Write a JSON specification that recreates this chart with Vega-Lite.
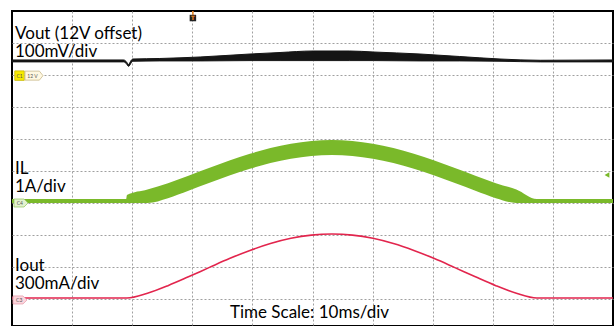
{
  "$schema": "https://vega.github.io/schema/vega-lite/v6.json",
  "width": 601,
  "height": 315,
  "autosize": {"type": "none"},
  "padding": {"left": 12, "top": 11, "right": 3, "bottom": 0},
  "background": "white",
  "config": {
    "view": {"stroke": "#000", "strokeWidth": 2},
    "axis": {"grid": true, "labels": false, "ticks": false, "domain": false, "gridColor": "#a0a0a0", "gridDash": [2, 2], "gridWidth": 1}
  },
  "resolve": {"scale": {"y": "independent"}},
  "encoding": {
    "x": {"field": "t", "type": "quantitative", "title": null, "scale": {"domain": [0, 100], "nice": false, "zero": false}, "axis": {"values": [10, 20, 30, 40, 50, 60, 70, 80, 90]}}
  },
  "layer": [
    {
      "data": {"values": [
        {"t": 0.5, "d": 9.125, "label": "Vout (12V offset)"},
        {"t": 0.5, "d": 8.5625, "label": "100mV/div"},
        {"t": 0.5, "d": 4.906, "label": "IL"},
        {"t": 0.5, "d": 4.344, "label": "1A/div"},
        {"t": 0.5, "d": 1.875, "label": "Iout"},
        {"t": 0.5, "d": 1.3125, "label": "300mA/div"}
      ]},
      "mark": {"type": "text", "align": "left", "baseline": "alphabetic", "font": "Lato", "fontSize": 17, "color": "#000"},
      "encoding": {
        "y": {"field": "d", "type": "quantitative", "title": null, "scale": {"domain": [0.15625, 10], "nice": false, "zero": false}, "axis": {"values": [1, 2, 3, 4, 5, 6, 7, 8, 9]}},
        "text": {"field": "label"}
      }
    },
    {
      "data": {"values": [
        {"t": 0, "lo": 41, "hi": 47},
        {"t": 18.6, "lo": 41, "hi": 47},
        {"t": 19.0, "lo": 36, "hi": 42},
        {"t": 19.4, "lo": 27, "hi": 33},
        {"t": 19.8, "lo": 37, "hi": 45},
        {"t": 20.1, "lo": 43, "hi": 50},
        {"t": 24.6, "lo": 44, "hi": 51.6},
        {"t": 31.3, "lo": 44, "hi": 56.3},
        {"t": 39.6, "lo": 45, "hi": 65.6},
        {"t": 44.6, "lo": 45, "hi": 70.3},
        {"t": 50.1, "lo": 45, "hi": 75},
        {"t": 56.2, "lo": 45, "hi": 75},
        {"t": 60.1, "lo": 45, "hi": 71.9},
        {"t": 67.9, "lo": 44, "hi": 65.6},
        {"t": 74.5, "lo": 44, "hi": 57.8},
        {"t": 81.2, "lo": 43, "hi": 50},
        {"t": 87.9, "lo": 41, "hi": 46},
        {"t": 100, "lo": 41, "hi": 47}
      ]},
      "mark": {"type": "area", "color": "#151515", "stroke": "#151515", "strokeWidth": 1, "interpolate": "monotone"},
      "encoding": {
        "y": {"field": "lo", "type": "quantitative", "title": null, "scale": {"domain": [-784.375, 200], "nice": false, "zero": false}, "axis": null},
        "y2": {"field": "hi"}
      }
    },
    {
      "data": {"values": [
        {"t": 0, "lo": 0, "hi": 0.125},
        {"t": 19.0, "lo": 0, "hi": 0.125},
        {"t": 19.13, "lo": 0, "hi": 0.25},
        {"t": 22.54, "lo": 0, "hi": 0.422},
        {"t": 25.95, "lo": 0.151, "hi": 0.62},
        {"t": 29.36, "lo": 0.382, "hi": 0.85},
        {"t": 32.77, "lo": 0.622, "hi": 1.091},
        {"t": 36.18, "lo": 0.857, "hi": 1.326},
        {"t": 39.59, "lo": 1.07, "hi": 1.539},
        {"t": 43.0, "lo": 1.251, "hi": 1.72},
        {"t": 46.41, "lo": 1.386, "hi": 1.855},
        {"t": 49.82, "lo": 1.471, "hi": 1.94},
        {"t": 53.23, "lo": 1.5, "hi": 1.969},
        {"t": 56.64, "lo": 1.471, "hi": 1.94},
        {"t": 60.05, "lo": 1.386, "hi": 1.855},
        {"t": 63.46, "lo": 1.251, "hi": 1.72},
        {"t": 66.87, "lo": 1.07, "hi": 1.539},
        {"t": 70.28, "lo": 0.857, "hi": 1.326},
        {"t": 73.69, "lo": 0.622, "hi": 1.091},
        {"t": 77.1, "lo": 0.382, "hi": 0.85},
        {"t": 80.51, "lo": 0.151, "hi": 0.62},
        {"t": 83.92, "lo": 0, "hi": 0.422},
        {"t": 87.33, "lo": 0, "hi": 0.125},
        {"t": 100, "lo": 0, "hi": 0.125}
      ]},
      "mark": {"type": "area", "color": "#7ab92a", "interpolate": "monotone"},
      "encoding": {
        "y": {"field": "lo", "type": "quantitative", "title": null, "scale": {"domain": [-3.84375, 6], "nice": false, "zero": false}, "axis": null},
        "y2": {"field": "hi"}
      }
    },
    {
      "data": {"values": [
        {"t": 0, "i": 9},
        {"t": 19.13, "i": 9},
        {"t": 22.54, "i": 54},
        {"t": 25.95, "i": 125},
        {"t": 29.36, "i": 208},
        {"t": 32.77, "i": 294},
        {"t": 36.18, "i": 379},
        {"t": 39.59, "i": 455},
        {"t": 43.0, "i": 520},
        {"t": 46.41, "i": 569},
        {"t": 49.82, "i": 599},
        {"t": 53.23, "i": 609},
        {"t": 56.64, "i": 599},
        {"t": 60.05, "i": 569},
        {"t": 63.46, "i": 520},
        {"t": 66.87, "i": 455},
        {"t": 70.28, "i": 379},
        {"t": 73.69, "i": 294},
        {"t": 77.1, "i": 208},
        {"t": 80.51, "i": 125},
        {"t": 83.92, "i": 54},
        {"t": 87.33, "i": 9},
        {"t": 100, "i": 9}
      ]},
      "mark": {"type": "line", "color": "#e2254d", "strokeWidth": 1.6, "interpolate": "monotone"},
      "encoding": {
        "y": {"field": "i", "type": "quantitative", "title": null, "scale": {"domain": [-253.125, 2700], "nice": false, "zero": false}, "axis": null}
      }
    },
    {
      "data": {"values": [{"t": 49.5, "d": 0.406, "label": "Time Scale: 10ms/div"}]},
      "mark": {"type": "text", "align": "center", "baseline": "alphabetic", "font": "Lato", "fontSize": 17, "color": "#000"},
      "encoding": {
        "y": {"field": "d", "type": "quantitative", "scale": {"domain": [0.15625, 10], "nice": false, "zero": false}, "axis": null},
        "text": {"field": "label"}
      }
    },
    {
      "data": {"values": [{"t": 1.25, "d": 7.98}]},
      "mark": {"type": "point", "shape": "square", "size": 90, "filled": true, "fill": "#f7ea00", "stroke": "#c8b800", "strokeWidth": 0.8, "opacity": 1},
      "encoding": {"y": {"field": "d", "type": "quantitative", "scale": {"domain": [0.15625, 10], "nice": false, "zero": false}, "axis": null}}
    },
    {
      "data": {"values": [{"t": 3.66, "d": 7.98}]},
      "mark": {"type": "point", "shape": "M-1,-0.5L0.6,-0.5L1,0L0.6,0.5L-1,0.5Z", "size": 324, "filled": true, "fill": "#fff8e2", "stroke": "#c9b98a", "strokeWidth": 0.8, "opacity": 1},
      "encoding": {"y": {"field": "d", "type": "quantitative", "scale": {"domain": [0.15625, 10], "nice": false, "zero": false}, "axis": null}}
    },
    {
      "data": {"values": [{"t": 1.5, "d": 4.0}]},
      "mark": {"type": "point", "shape": "M-1,-0.571L0.43,-0.571L1,0L0.43,0.571L-1,0.571Z", "size": 196, "filled": true, "fill": "#e3f2cf", "stroke": "#9ccc6a", "strokeWidth": 0.8, "opacity": 1},
      "encoding": {"y": {"field": "d", "type": "quantitative", "scale": {"domain": [0.15625, 10], "nice": false, "zero": false}, "axis": null}}
    },
    {
      "data": {"values": [{"t": 1.33, "d": 0.97}]},
      "mark": {"type": "point", "shape": "M-1,-0.571L0.43,-0.571L1,0L0.43,0.571L-1,0.571Z", "size": 196, "filled": true, "fill": "#fbd6dd", "stroke": "#e9a0ae", "strokeWidth": 0.8, "opacity": 1},
      "encoding": {"y": {"field": "d", "type": "quantitative", "scale": {"domain": [0.15625, 10], "nice": false, "zero": false}, "axis": null}}
    },
    {
      "data": {"values": [
        {"t": 1.25, "d": 7.98, "label": "C1"},
        {"t": 3.4, "d": 7.98, "label": "12 V"},
        {"t": 1.3, "d": 4.0, "label": "C4"},
        {"t": 1.2, "d": 0.97, "label": "C3"}
      ]},
      "mark": {"type": "text", "align": "center", "baseline": "middle", "font": "Lato", "fontSize": 5, "color": "#555"},
      "encoding": {
        "y": {"field": "d", "type": "quantitative", "scale": {"domain": [0.15625, 10], "nice": false, "zero": false}, "axis": null},
        "text": {"field": "label"}
      }
    },
    {
      "data": {"values": [{"t": 30.1, "d": 10, "d2": 9.85}]},
      "mark": {"type": "rule", "color": "#f0861e", "strokeWidth": 1.5},
      "encoding": {
        "y": {"field": "d", "type": "quantitative", "scale": {"domain": [0.15625, 10], "nice": false, "zero": false}, "axis": null},
        "y2": {"field": "d2"}
      }
    },
    {
      "data": {"values": [{"t": 30.1, "d": 9.78}]},
      "mark": {"type": "point", "shape": "square", "size": 42, "filled": true, "fill": "#222", "opacity": 1},
      "encoding": {"y": {"field": "d", "type": "quantitative", "scale": {"domain": [0.15625, 10], "nice": false, "zero": false}, "axis": null}}
    },
    {
      "data": {"values": [{"t": 30.1, "d": 9.78, "label": "T"}]},
      "mark": {"type": "text", "align": "center", "baseline": "middle", "font": "DejaVu Sans", "fontWeight": "bold", "fontSize": 6, "color": "#f0861e"},
      "encoding": {
        "y": {"field": "d", "type": "quantitative", "scale": {"domain": [0.15625, 10], "nice": false, "zero": false}, "axis": null},
        "text": {"field": "label"}
      }
    },
    {
      "data": {"values": [{"t": 99.0, "d": 4.875}]},
      "mark": {"type": "point", "shape": "triangle-left", "size": 30, "filled": true, "fill": "#7ab92a", "opacity": 1},
      "encoding": {"y": {"field": "d", "type": "quantitative", "scale": {"domain": [0.15625, 10], "nice": false, "zero": false}, "axis": null}}
    }
  ]
}
